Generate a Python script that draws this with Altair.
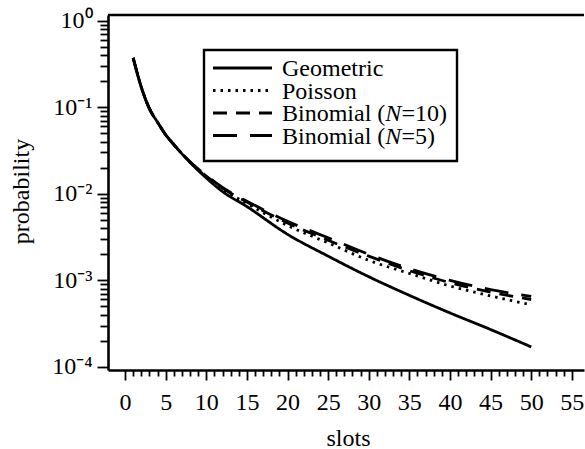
import json
import altair as alt
import pandas as pd

# ---- data ----
slots = [1, 2, 3, 4, 5, 6, 8, 10, 12, 15, 20, 25, 30, 35, 40, 45, 50]
geometric = [0.37, 0.17, 0.096, 0.067, 0.048, 0.037, 0.023, 0.0152, 0.0106, 0.0071,
             0.0034, 0.0019, 0.00110, 0.00067, 0.00042, 0.00027, 0.00017]
poisson = [0.37, 0.17, 0.096, 0.067, 0.048, 0.037, 0.0232, 0.0157, 0.0113, 0.0077,
           0.0043, 0.0027, 0.0017, 0.00120, 0.00086, 0.00066, 0.00052]
binom10 = [0.37, 0.17, 0.096, 0.067, 0.048, 0.037, 0.0233, 0.0160, 0.0116, 0.0080,
           0.0046, 0.0029, 0.0019, 0.00129, 0.00094, 0.00073, 0.00060]
binom5 = [0.37, 0.17, 0.096, 0.067, 0.048, 0.037, 0.0234, 0.0162, 0.0118, 0.0082,
          0.0048, 0.0031, 0.0020, 0.00136, 0.00100, 0.00078, 0.00065]

series_names = ["Geometric", "Poisson", "Binomial (N=10)", "Binomial (N=5)"]
x_ticks = list(range(0, 56))
y_ticks = [m * d for d in [1e-4, 1e-3, 1e-2, 1e-1] for m in range(1, 10)] + [1.0]
y_labels = ["10\u2070", "10\u207b\u00b9", "10\u207b\u00b2", "10\u207b\u00b3", "10\u207b\u2074"]

FONT = "Liberation Serif"
W, H = 476, 355
dashes = [[1, 0], [2.5, 5], [14, 9], [24, 13]]

rows = []
for name, vals in zip(series_names, [geometric, poisson, binom10, binom5]):
    for s, v in zip(slots, vals):
        rows.append({"slots": s, "p": v, "series": name})
df = pd.DataFrame(rows)

xscale = alt.Scale(domain=[-2.1, 56.5], nice=False, zero=False)
yscale = alt.Scale(type="log", domain=[9.2e-5, 1.16], nice=False)

is_decade = "abs(log(datum.value)/LN10 - round(log(datum.value)/LN10)) < 0.001"
label_expr = (is_decade + " ? " + json.dumps(y_labels)
              + "[-round(log(datum.value)/LN10)] : ''")

lines = alt.Chart(df).mark_line(color="black", strokeWidth=2.8, interpolate="monotone").encode(
    x=alt.X("slots:Q", scale=xscale, title="slots",
            axis=alt.Axis(values=x_ticks,
                          labelExpr="datum.value % 5 == 0 ? datum.label : ''",
                          tickSize={"condition": {"test": "datum.value % 5 == 0", "value": 10},
                                    "value": 6},
                          labelPadding=10, titleX=240, titleY=75)),
    y=alt.Y("p:Q", scale=yscale, title="probability",
            axis=alt.Axis(values=y_ticks, labelExpr=label_expr,
                          tickSize={"condition": {"test": is_decade, "value": 11},
                                    "value": 8},
                          labelPadding=5, titleX=-80, titleY=176)),
    strokeDash=alt.StrokeDash("series:N", scale=alt.Scale(domain=series_names, range=dashes),
                              legend=None),
    detail="series:N",
)

one = pd.DataFrame({"a": [0]})
top_line = alt.Chart(one).mark_rule(color="black", strokeWidth=2.6).encode(
    x=alt.value(0), x2=alt.value(W), y=alt.value(0))

# legend
box = alt.Chart(one).mark_rect(fill="white", stroke="black", strokeWidth=2.4).encode(
    x=alt.value(96), x2=alt.value(349), y=alt.value(35), y2=alt.value(146))
legend_layers = [box]
row_y = [53, 75.5, 98, 120.5]
for i, name in enumerate(series_names):
    legend_layers.append(alt.Chart(one).mark_rule(color="black", strokeWidth=2.8,
                                                  strokeDash=dashes[i]).encode(
        x=alt.value(105), x2=alt.value(164), y=alt.value(row_y[i])))
tx = 174
parts = [
    [("Geometric", "normal", 0)],
    [("Poisson", "normal", 0)],
    [("Binomial (", "normal", 0), ("N", "italic", 103.3), ("=10)", "normal", 119.5)],
    [("Binomial (", "normal", 0), ("N", "italic", 103.3), ("=5)", "normal", 119.5)],
]
for i, segs in enumerate(parts):
    for txt, style, dx in segs:
        legend_layers.append(alt.Chart(one).mark_text(
            font=FONT, fontSize=24, fontStyle=style, color="black", align="left",
            baseline="middle").encode(
            x=alt.value(tx + dx), y=alt.value(row_y[i] + 1), text=alt.value(txt)))

chart = alt.layer(lines, top_line, *legend_layers).properties(
    width=W, height=H,
    padding={"left": 108, "top": 15, "right": 1, "bottom": 79},
    autosize=alt.AutoSizeParams(type="none"),
).configure(
    background="white", font=FONT
).configure_view(
    stroke=None
).configure_axis(
    grid=False, domainColor="black", domainWidth=2.6, tickColor="black", tickWidth=1.8,
    labelFont=FONT, labelFontSize=24, labelColor="black",
    labelOverlap=False, labelFlush=False, titleFont=FONT, titleFontSize=24,
    titleFontWeight="normal", titleColor="black", titleBaseline="alphabetic"
).configure_axisY(
    labelBaseline="middle", titleAngle=-90
)

chart.save("out.html", embed_options={"renderer": "svg", "actions": False})
